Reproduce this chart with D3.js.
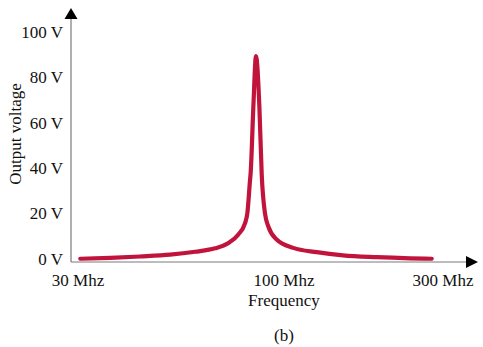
<!DOCTYPE html>
<html>
<head>
<meta charset="utf-8">
<script src="https://cdn.jsdelivr.net/npm/d3@7"></script>
<style>
  html, body { margin: 0; padding: 0; background: #fff; }
  svg { display: block; }
  text { font-family: "Liberation Serif", "Times New Roman", serif; fill: #111; }
</style>
</head>
<body>
<svg id="chart" width="483" height="347"></svg>
<script>
// ---- data ----
const freqMHz = [30.4, 36.2, 43.1, 51.4, 59.5, 66.8, 72.1, 76.4, 79.6, 80.7, 82.0, 82.3, 83.6, 84.9,
                 86.6, 87.8, 89.5, 91.3, 95.8, 106.6, 125.4, 150.3, 189.8, 238.9, 277.5];
const voltage = [0.1, 0.5, 1.1, 1.9, 3.2, 4.7, 6.9, 10.6, 15.7, 20, 34.8, 38, 67, 89.4,
                 67, 37, 20, 14.2, 8.6, 4.9, 3.0, 1.6, 0.8, 0.3, 0.1];
const xTicks = [30, 100, 300];
const xTickLabels = ["30 Mhz", "100 Mhz", "300 Mhz"];
const yTicks = [0, 20, 40, 60, 80, 100];
const yTickLabels = ["0 V", "20 V", "40 V", "60 V", "80 V", "100 V"];
const xTitle = "Frequency";
const yTitle = "Output voltage";
const caption = "(b)";

// ---- drawing ----
const svg = d3.select("#chart");
const axisX0 = 71, axisY0 = 262;
const fs = 17;

const x = d3.scaleLog().domain([30, 100, 300]).range([78, 284, 443]);
const y = d3.scaleLinear().domain([0, 100]).range([259, 32]);

const axisColor = "#7a7a7a";

// y axis line + arrow
svg.append("line").attr("x1", axisX0).attr("x2", axisX0)
  .attr("y1", axisY0).attr("y2", 16)
  .attr("stroke", axisColor).attr("stroke-width", 1.2);
svg.append("path").attr("d", `M${axisX0},8 L${axisX0 - 6.5},19 L${axisX0 + 6.5},19 Z`).attr("fill", "#000");

// x axis line + arrow
svg.append("line").attr("x1", axisX0).attr("x2", 469)
  .attr("y1", axisY0).attr("y2", axisY0)
  .attr("stroke", axisColor).attr("stroke-width", 1.2);
svg.append("path").attr("d", `M478,${axisY0} L466,${axisY0 - 6} L466,${axisY0 + 6} Z`).attr("fill", "#000");

// y tick labels
svg.append("g").selectAll("text").data(yTicks).join("text")
  .attr("x", 63).attr("y", d => y(d)).attr("dy", "0.34em")
  .attr("text-anchor", "end").attr("font-size", fs)
  .text((d, i) => yTickLabels[i]);

// x tick labels
svg.append("g").selectAll("text").data(xTicks).join("text")
  .attr("x", d => x(d)).attr("y", 286)
  .attr("text-anchor", "middle").attr("font-size", fs)
  .text((d, i) => xTickLabels[i]);

// titles
svg.append("text").attr("x", 284).attr("y", 306).attr("text-anchor", "middle")
  .attr("font-size", fs).text(xTitle);
svg.append("text").attr("transform", "translate(21,134) rotate(-90)")
  .attr("text-anchor", "middle").attr("font-size", fs).text(yTitle);
svg.append("text").attr("x", 284).attr("y", 341).attr("text-anchor", "middle")
  .attr("font-size", fs).text(caption);

// curve
const pts = freqMHz.map((f, i) => [f, voltage[i]]);
const line = d3.line().x(d => x(d[0])).y(d => y(d[1])).curve(d3.curveMonotoneX);
svg.append("path").datum(pts).attr("d", line)
  .attr("fill", "none").attr("stroke", "#c0143c").attr("stroke-width", 4.2)
  .attr("stroke-linecap", "round").attr("stroke-linejoin", "round");
</script>
</body>
</html>
